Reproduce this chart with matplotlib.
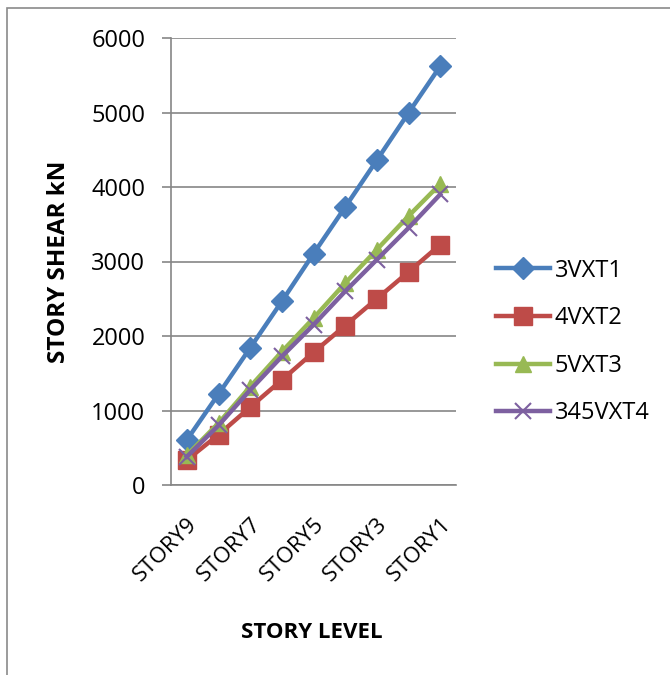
import numpy as np
import matplotlib
matplotlib.use("Agg")
import matplotlib.pyplot as plt
from matplotlib.patches import Rectangle

plt.rcParams['font.family'] = ['Open Sans', 'DejaVu Sans']

stories = ['STORY9', 'STORY8', 'STORY7', 'STORY6', 'STORY5',
           'STORY4', 'STORY3', 'STORY2', 'STORY1']
vxt1 = [605, 1220, 1840, 2465, 3105, 3730, 4360, 4995, 5620]
vxt2 = [335, 675, 1045, 1410, 1780, 2140, 2500, 2860, 3225]
vxt3 = [400, 830, 1320, 1790, 2240, 2710, 3160, 3610, 4040]
vxt4 = [380, 800, 1275, 1725, 2150, 2600, 3025, 3450, 3900]
labels = ['3VXT1', '4VXT2', '5VXT3', '345VXT4']

W, H = 670, 675
fig = plt.figure(figsize=(W / 100, H / 100), dpi=100)
# chart border (partly outside the canvas)
fig.patches.append(Rectangle((7 / W, -0.1), 1.2, 1 - 8 / H + 0.1, transform=fig.transFigure,
                             fill=False, edgecolor='#8a8a8a', linewidth=1.2))

ax = fig.add_axes([171 / W, 1 - 485 / H, (456 - 171) / W, (485 - 38) / H])
x = np.arange(len(stories))

ax.plot(x, vxt1, color='#4A7EBB', lw=3.2, marker='D', ms=11, label=labels[0], zorder=3)
ax.plot(x, vxt2, color='#BE4B48', lw=3.2, marker='s', ms=13, label=labels[1], zorder=3)
ax.plot(x, vxt3, color='#98B954', lw=3.2, marker='^', ms=12, label=labels[2], zorder=3)
ax.plot(x, vxt4, color='#7D60A0', lw=3.2, marker='x', ms=12, mew=1.5, label=labels[3], zorder=4)

ax.set_xlim(-0.5, len(stories) - 0.5)
ax.set_ylim(0, 6000)
ax.set_yticks(range(0, 6001, 1000))
ax.set_xticks(x[::2])
ax.set_xticklabels(stories[::2], rotation=45, ha='right', rotation_mode='anchor', fontsize=16)
ax.grid(axis='y', color='#868686', lw=1.2)
ax.set_axisbelow(True)
for s in ['top', 'right']:
    ax.spines[s].set_visible(False)
for s in ['left', 'bottom']:
    ax.spines[s].set_color('#868686')
    ax.spines[s].set_linewidth(1.2)
ax.tick_params(axis='y', length=6.5, color='#868686', width=1.2, labelsize=17, pad=12)
ax.tick_params(axis='x', length=0, pad=21)

ax.set_ylabel('STORY SHEAR kN', fontsize=17.5, fontweight='bold')
ax.yaxis.set_label_coords(-0.352, 0.5)
ax.set_xlabel('STORY LEVEL', fontsize=16, fontweight='bold')
ax.xaxis.set_label_coords(0.495, -0.306)

ax.legend(loc='center left', bbox_to_anchor=(1.065, 0.32), frameon=False, fontsize=17,
          handlelength=2.3, handletextpad=0.2, labelspacing=1.0)

fig.savefig('out.png', dpi=100)
